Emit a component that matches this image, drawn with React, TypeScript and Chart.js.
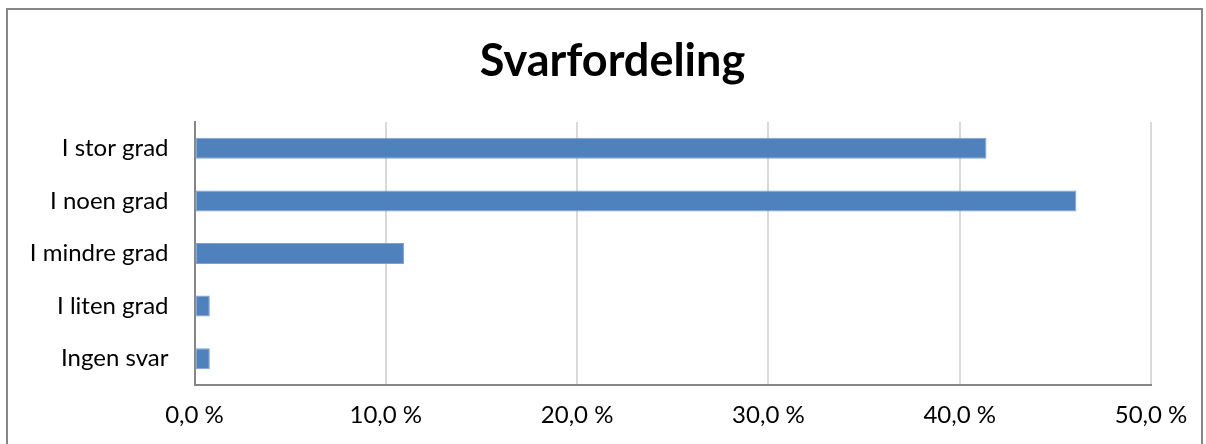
import React, { useEffect, useRef } from "react";
import { Chart, registerables } from "chart.js";

Chart.register(...registerables);

const categories = ["I stor grad", "I noen grad", "I mindre grad", "I liten grad", "Ingen svar"];
const values = [41.4, 46.1, 10.95, 0.8, 0.8];
const titleText = "Svarfordeling";
const xMin = 0;
const xMax = 50;
const xStep = 10;

const FONT = "Lato, 'Open Sans', sans-serif";

export default function App() {
  const ref = useRef<HTMLCanvasElement | null>(null);

  useEffect(() => {
    if (!ref.current) return;
    const chart = new Chart(ref.current, {
      type: "bar",
      data: {
        labels: categories,
        datasets: [
          {
            data: values,
            backgroundColor: "#4F81BD",
            borderColor: "#7DA2CE",
            borderWidth: 1,
            borderSkipped: false,
            barPercentage: 0.4,
            categoryPercentage: 1,
          },
        ],
      },
      options: {
        indexAxis: "y",
        animation: false,
        responsive: false,
        maintainAspectRatio: false,
        layout: { padding: { left: 19, right: 0, top: 0, bottom: 0 } },
        plugins: {
          legend: { display: false },
          tooltip: { enabled: false },
          title: {
            display: true,
            text: titleText,
            color: "#000000",
            font: { family: FONT, size: 45, weight: "bold", lineHeight: 1.2 },
            padding: { top: 34, bottom: 34 },
          },
        },
        scales: {
          x: {
            min: xMin,
            max: xMax,
            ticks: {
              stepSize: xStep,
              color: "#000000",
              padding: 16,
              maxRotation: 0,
              font: { family: FONT, size: 24 },
              callback: (v: any) => Number(v).toFixed(1).replace(".", ",") + " %",
            },
            grid: { color: "#D9D9D9", lineWidth: 2, drawTicks: false },
            border: { display: true, color: "#868686", width: 2 },
            afterFit: (s: any) => {
              s.height = 59;
              s.paddingRight = 55;
            },
          },
          y: {
            ticks: {
              color: "#000000",
              padding: 26,
              font: { family: FONT, size: 24 },
            },
            grid: { display: false, drawTicks: false },
            border: { display: true, color: "#868686", width: 2 },
            afterFit: (s: any) => {
              s.width = 175.5;
            },
          },
        },
      },
    });
    return () => chart.destroy();
  }, []);

  return (
    <div style={{ position: "absolute", left: 0, top: 0, width: 1206, height: 444, overflow: "hidden", background: "#fff" }}>
      <canvas ref={ref} width={1206} height={444} style={{ position: "absolute", left: 0, top: 0 }} />
      <div
        style={{
          position: "absolute",
          left: 6,
          top: 8,
          width: 1197,
          height: 500,
          border: "2px solid #868686",
          boxSizing: "border-box",
          pointerEvents: "none",
        }}
      />
    </div>
  );
}
